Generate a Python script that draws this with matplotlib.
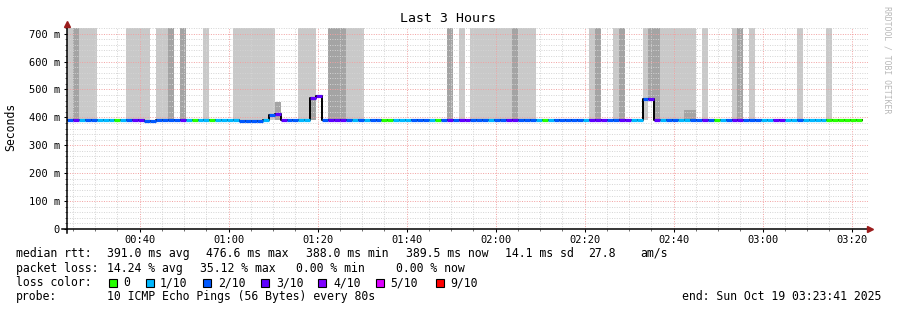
import matplotlib
matplotlib.use('Agg')
import matplotlib.pyplot as plt
from matplotlib.ticker import FixedLocator, MultipleLocator
from matplotlib.patches import Rectangle
import numpy as np

plt.rcParams['font.family'] = 'DejaVu Sans Mono'

# ---- data ----
start_time = '00:23:41'
step_seconds = 80

# loss per 80 s step, in tenths (0..9)
loss_tenths = [2, 3, 1, 2, 2, 1, 1, 1, 0, 1,
               2, 3, 3, 2, 2, 2, 2, 2, 2, 3,
               1, 0, 1, 1, 0, 1, 1, 1, 1, 2,
               2, 2, 2, 1, 2, 3, 3, 2, 2, 1,
               1, 3, 3, 2, 3, 3, 3, 2, 1, 2,
               1, 2, 2, 0, 0, 1, 1, 1, 2, 2,
               2, 1, 0, 2, 3, 2, 3, 3, 2, 2,
               2, 1, 2, 2, 3, 3, 2, 2, 2, 1,
               0, 1, 2, 2, 2, 2, 2, 1, 3, 3,
               3, 2, 2, 3, 3, 1, 1, 2, 3, 3,
               1, 2, 2, 1, 1, 2, 2, 3, 2, 0,
               1, 2, 3, 3, 2, 2, 2, 1, 1, 3,
               3, 1, 1, 2, 1, 1, 1, 1, 0, 0,
               0, 0, 0, 0]

# median rtt (ms) as (value, number of steps)
median_runs = [(389.5, 13), (388.5, 2), (389.5, 14), (388.5, 4), (389.5, 1),
               (408.0, 1), (413.0, 1), (389.5, 5), (470.0, 1), (476.6, 1),
               (389.5, 54), (465.0, 1), (465.0, 1), (389.5, 35)]

# smoke: steps with full-height light / dark smoke, plus partial pieces
smoke_light = [0, 2, 3, 4, 10, 11, 12, 13, 15, 16, 23, 28, 29, 30, 31, 32, 33, 34,
               39, 40, 41, 47, 48, 49, 66, 68, 69, 70, 71, 72, 73, 74, 76, 77, 78,
               88, 92, 97, 100, 101, 102, 103, 104, 105, 107, 112, 115, 123, 128]
smoke_dark = [1, 17, 19, 44, 45, 46, 64, 75, 89, 93, 99, 113]
smoke_partial = [(35, 391, 456), (41, 391, 470), (98, 465, 720),
                 (104, 391, 428), (105, 391, 425)]
smoke_top = 720

loss_levels = [0, 1, 2, 3, 4, 5, 9]
loss_labels = ['0', '1/10', '2/10', '3/10', '4/10', '5/10', '9/10']
loss_colors = ['#26ff00', '#00b8ff', '#0059ff', '#5e00ff', '#7e00ff', '#dd00ff', '#ff0000']

tick_labels = ['00:40', '01:00', '01:20', '01:40', '02:00', '02:20', '02:40', '03:00', '03:20']
y_ticks = [0, 100, 200, 300, 400, 500, 600, 700]
y_labels = ['0', '100 m', '200 m', '300 m', '400 m', '500 m', '600 m', '700 m']

legend_rows = [
    [(16, 'median rtt:'), (107, '391.0 ms avg'), (206, '476.6 ms max'), (306, '388.0 ms min'),
     (406, '389.5 ms now'), (505, '14.1 ms sd'), (588, '27.8'), (640, 'am/s')],
    [(16, 'packet loss:'), (107, '14.24 % avg'), (200, '35.12 % max'), (296, '0.00 % min'),
     (396, '0.00 % now')],
    [(16, 'loss color:')],
    [(16, 'probe:'), (107, '10 ICMP Echo Pings (56 Bytes) every 80s')],
]
legend_box_x = [109, 146, 203, 261, 318, 376, 436]
legend_lab_x = [123, 160, 218, 276, 333, 390, 450]
end_text = 'end: Sun Oct 19 03:23:41 2025'


def to_sec(s):
    parts = [int(p) for p in s.split(':')]
    while len(parts) < 3:
        parts.append(0)
    return parts[0] * 3600 + parts[1] * 60 + parts[2]


median = []
for v, n in median_runs:
    median += [v] * n
median = np.array(median)
t0 = to_sec(start_time)
t = t0 + np.arange(len(median)) * step_seconds
t_end = t0 + 135 * step_seconds

W, H = 897, 310
fig = plt.figure(figsize=(W / 100, H / 100), dpi=100)
fig.patch.set_facecolor('white')
ax = fig.add_axes([67 / W, 1 - 229 / H, 801 / W, 201 / H])

light = '#c9c9c9'
dark = '#a4a4a4'
idx = np.array(smoke_light)
ax.bar(t0 + idx * step_seconds, smoke_top - 391, bottom=391, width=step_seconds,
       align='edge', color=light, linewidth=0, zorder=1)
idx = np.array(smoke_dark)
ax.bar(t0 + idx * step_seconds, smoke_top - 391, bottom=391, width=step_seconds,
       align='edge', color=dark, linewidth=0, zorder=1)
for k, lo, hi in smoke_partial:
    ax.bar(t0 + k * step_seconds, hi - lo, bottom=lo, width=step_seconds,
           align='edge', color=dark, linewidth=0, zorder=1.1)

# median line: black steps, loss coloured flats
xs = np.append(t, t[-1] + step_seconds)
ys = np.append(median, median[-1])
ax.step(xs, ys, where='post', color='black', lw=1.4, zorder=3)
cmap = dict(zip(loss_levels, loss_colors))
ax.hlines(median, t, t + step_seconds, colors=[cmap[l] for l in loss_tenths],
          lw=2.3, zorder=4, capstyle='butt')

ax.set_xlim(t0, t_end)
ax.set_ylim(0, 720)
ax.xaxis.set_major_locator(FixedLocator([to_sec(s) for s in tick_labels]))
ax.set_xticklabels(tick_labels)
ax.xaxis.set_minor_locator(MultipleLocator(300))
ax.set_yticks(y_ticks)
ax.set_yticklabels(y_labels)
ax.yaxis.set_minor_locator(MultipleLocator(20))

ax.set_axisbelow(False)
ax.grid(which='minor', color='#d4d4d4', lw=0.7, ls=(0, (1, 1.5)))
ax.grid(which='major', color='#f2a0a0', lw=0.7, ls=(0, (1, 1.5)))
ax.tick_params(which='major', length=2.5, width=0.75, labelsize=7.5, color='black')
ax.tick_params(which='minor', length=1.5, width=0.6, color='#555555')
ax.tick_params(axis='x', pad=1.5)
ax.tick_params(axis='y', pad=2.5)
for s in ax.spines.values():
    s.set_visible(False)

# axes with arrows
ax.plot([0, 0], [-0.02, 1.02], transform=ax.transAxes, color='black', lw=1.1,
        clip_on=False, zorder=5)
ax.plot([-0.006, 1.0], [0, 0], transform=ax.transAxes, color='black', lw=1.1,
        clip_on=False, zorder=5)
ax.plot([0], [1.022], marker='^', ms=4.5, color='#9b1c1c', transform=ax.transAxes,
        clip_on=False, zorder=6)
ax.plot([1.0025], [0], marker='>', ms=4.5, color='#9b1c1c', transform=ax.transAxes,
        clip_on=False, zorder=6)

fig.text(448 / W, 1 - 19 / H, 'Last 3 Hours', ha='center', va='center', fontsize=9.5)
fig.text(11 / W, 1 - 127 / H, 'Seconds', rotation=90, ha='center', va='center', fontsize=8.3)
fig.text(887 / W, 1 - 60 / H, 'RRDTOOL / TOBI OETIKER', rotation=270, ha='center',
         va='center', fontsize=5.9, color='#b8b8b8')

fs = 8.3
row_y = [253.5, 268.3, 282.7, 296.7]
for row, y in zip(legend_rows, row_y):
    for x, s in row:
        fig.text(x / W, 1 - y / H, s, ha='left', va='center', fontsize=fs)
for bx, lx, lab, col in zip(legend_box_x, legend_lab_x, loss_labels, loss_colors):
    fig.add_artist(Rectangle((bx / W, 1 - 286.5 / H), 7.5 / W, 7.5 / H, transform=fig.transFigure,
                             facecolor=col, edgecolor='black', lw=0.8))
    fig.text(lx / W, 1 - row_y[2] / H, lab, ha='left', va='center', fontsize=fs)
fig.text(881 / W, 1 - row_y[3] / H, end_text, ha='right', va='center', fontsize=fs)

fig.savefig('out.png', dpi=100, facecolor='white')
